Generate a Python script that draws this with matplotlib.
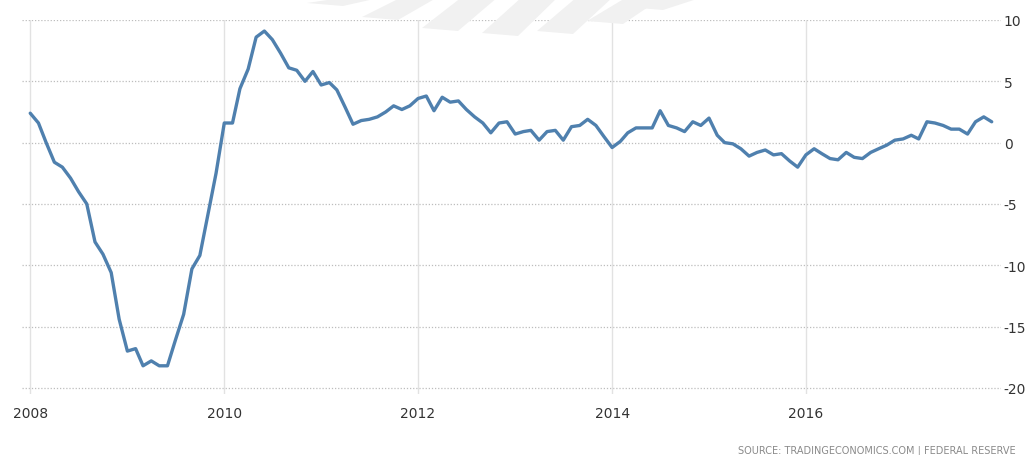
import matplotlib
matplotlib.use("Agg")
import matplotlib.pyplot as plt
import matplotlib.dates as mdates
from matplotlib.patches import Polygon
import pandas as pd

# Monthly year-over-year change, Jan 2008 - Dec 2017
months = pd.date_range("2008-01-01", periods=120, freq="MS")
values = [
    2.4, 1.6, 0.0, -1.6, -2.0, -2.9, -4.0, -5.0, -8.1, -9.1, -10.6, -14.4,
    -17.0, -16.8, -18.2, -17.8, -18.2, -18.2, -16.1, -14.0, -10.3, -9.2, -5.8, -2.5,
    1.6, 1.6, 4.4, 6.0, 8.6, 9.1, 8.4, 7.3, 6.1, 5.9, 5.0, 5.8,
    4.7, 4.9, 4.3, 2.9, 1.5, 1.8, 1.9, 2.1, 2.5, 3.0, 2.7, 3.0,
    3.6, 3.8, 2.6, 3.7, 3.3, 3.4, 2.7, 2.1, 1.6, 0.8, 1.6, 1.7,
    0.7, 0.9, 1.0, 0.2, 0.9, 1.0, 0.2, 1.3, 1.4, 1.9, 1.4, 0.5,
    -0.4, 0.1, 0.8, 1.2, 1.2, 1.2, 2.6, 1.4, 1.2, 0.9, 1.7, 1.4,
    2.0, 0.6, 0.0, -0.1, -0.5, -1.1, -0.8, -0.6, -1.0, -0.9, -1.5, -2.0,
    -1.0, -0.5, -0.9, -1.3, -1.4, -0.8, -1.2, -1.3, -0.8, -0.5, -0.2, 0.2,
    0.3, 0.6, 0.3, 1.7, 1.6, 1.4, 1.1, 1.1, 0.7, 1.7, 2.1, 1.7,
]
y_ticks = [10, 5, 0, -5, -10, -15, -20]
x_tick_years = [2008, 2010, 2012, 2014, 2016]
source_text = "SOURCE: TRADINGECONOMICS.COM | FEDERAL RESERVE"

W, H = 1034, 456
fig = plt.figure(figsize=(W / 100, H / 100), dpi=100)
ax = fig.add_axes([22 / W, 1 - 395 / H, (1001 - 22) / W, (395 - 21) / H])

# faint striped swoosh logo peeking in at the top (pixel coords, y down)
stripe_bottoms = [(335, 6), (390, 20), (450, 31), (510, 36), (565, 34), (615, 24), (655, 10)]
for cx, by in stripe_bottoms:
    pts_px = [(cx - 28, by - 2), (cx + 8, by + 1), (cx + 48, -2), (cx + 12, -2)]
    pts = [(x / W, 1 - y / H) for x, y in pts_px]
    fig.patches.append(Polygon(pts, closed=True, transform=fig.transFigure,
                               facecolor="#f1f1f1", edgecolor="none", zorder=0))

ax.set_facecolor("none")
ax.plot(months, values, color="#4f80ae", linewidth=2.4,
        solid_joinstyle="round", solid_capstyle="round", zorder=3)

ax.set_ylim(-20.5, 10)
ax.set_xlim(pd.Timestamp("2007-12-01"), pd.Timestamp("2018-01-05"))

for v in y_ticks:
    ax.axhline(v, color="#bdbdbd", linewidth=0.9, linestyle=(0, (1, 1.5)), zorder=1)
for yr in x_tick_years:
    ax.axvline(pd.Timestamp(f"{yr}-01-01"), color="#e2e2e2", linewidth=1.0, zorder=1)

ax.set_yticks(y_ticks)
ax.set_yticklabels([str(v) for v in y_ticks])
ax.yaxis.tick_right()
ax.set_xticks([pd.Timestamp(f"{yr}-01-01") for yr in x_tick_years])
ax.xaxis.set_major_formatter(mdates.DateFormatter("%Y"))
ax.tick_params(axis="both", length=0, labelsize=10, colors="#333333")
ax.tick_params(axis="y", pad=2)
ax.tick_params(axis="x", pad=9)
for spine in ax.spines.values():
    spine.set_visible(False)

fig.text(1016 / W, 1 - 451 / H, source_text, ha="right", va="center",
         fontsize=7, color="#8a8a8a")

fig.savefig("out.png", dpi=100, facecolor="white")
